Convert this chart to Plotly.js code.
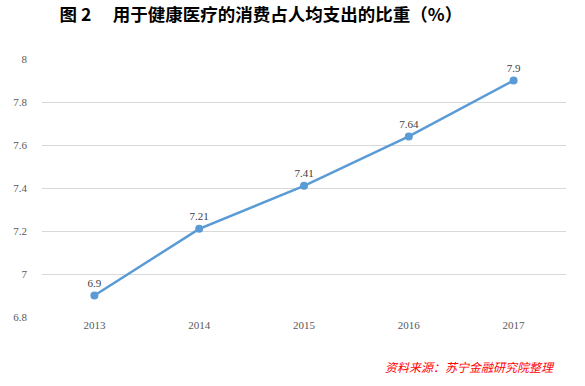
<!DOCTYPE html>
<html><head><meta charset="utf-8">
<script src="https://cdn.plot.ly/plotly-3.0.1.min.js"></script>
<style>html,body{margin:0;padding:0;background:#fff}</style>
</head><body>
<div id="chart" style="width:585px;height:386px"></div>
<script>
var years = ['2013','2014','2015','2016','2017'];
var shares = [6.9, 7.21, 7.41, 7.64, 7.9];
var labels = ['6.9','7.21','7.41','7.64','7.9'];
var yTicks = [6.8, 7, 7.2, 7.4, 7.6, 7.8, 8];
var yTickText = ['6.8','7','7.2','7.4','7.6','7.8','8'];

var trace = {
  x: years, y: shares, type: 'scatter', mode: 'lines+markers+text',
  text: labels, textposition: 'top center',
  textfont: {family: 'Liberation Serif, serif', size: 11, color: '#404040'},
  line: {color: '#5B9BD5', width: 2.5},
  marker: {color: '#5B9BD5', size: 8},
  cliponaxis: false, hoverinfo: 'none'
};
var layout = {
  width: 585, height: 386,
  margin: {l: 42, r: 19, t: 59, b: 69},
  paper_bgcolor: '#fff', plot_bgcolor: '#fff',
  showlegend: false,
  title: {text: '<b>图 2\u3000 用于健康医疗的消费占人均支出的比重（%）</b>',
    font: {family: 'Noto Sans CJK SC', size: 17.5, color: '#000'},
    x: 0.446, xanchor: 'center', y: 0.962, yanchor: 'middle'},
  xaxis: {type: 'category', range: [-0.5, 4.5], showgrid: false, zeroline: false,
    showline: false, ticks: '',
    tickfont: {family: 'Liberation Serif, serif', size: 11, color: '#595959'}},
  yaxis: {range: [6.8, 8], tickvals: yTicks, ticktext: yTickText, showgrid: true,
    gridcolor: '#D9D9D9', gridwidth: 1, zeroline: false, showline: false, ticks: '',
    ticklabelstandoff: 14,
    tickfont: {family: 'Liberation Serif, serif', size: 11, color: '#595959'}},
  annotations: [{
    text: '<i>资料来源：苏宁金融研究院整理</i>', xref: 'paper', yref: 'paper',
    x: 0.982, y: -0.19, xanchor: 'right', yanchor: 'middle', showarrow: false,
    font: {family: 'Noto Sans CJK SC', size: 12, color: '#FF0000'}
  }]
};
Plotly.newPlot('chart', [trace], layout, {displayModeBar: false, staticPlot: true});
</script>
</body></html>
